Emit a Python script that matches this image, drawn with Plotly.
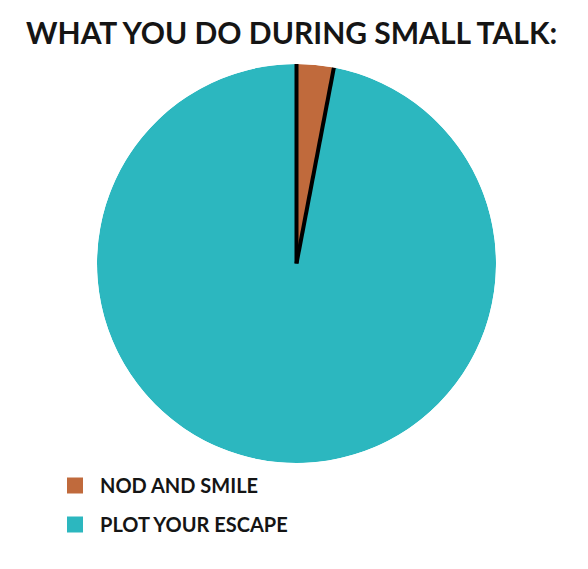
import plotly.graph_objects as go

title = "WHAT YOU DO DURING SMALL TALK:"
labels = ["NOD AND SMILE", "PLOT YOUR ESCAPE"]
values = [3, 97]
colors = ["#C06A3C", "#2CB7BF"]

total = sum(values)
widths = [v / total * 360 for v in values]
starts = [sum(widths[:i]) for i in range(len(widths))]
centers = [s + w / 2 for s, w in zip(starts, widths)]
# boundaries of the small slice (where black divider lines are drawn)
bounds = [starts[0], starts[0] + widths[0]]

fig = go.Figure()
fig.add_trace(go.Barpolar(
    r=[1] * len(values), theta=centers, width=widths,
    marker=dict(color=colors, line=dict(width=0)),
    text=labels, hoverinfo="text", showlegend=False,
))
line_r, line_t = [], []
for b in bounds:
    line_r += [0, 1, None]
    line_t += [b, b, None]
fig.add_trace(go.Scatterpolar(
    r=line_r, theta=line_t, mode="lines",
    line=dict(color="black", width=4), hoverinfo="skip", showlegend=False,
))
for lab, col in zip(labels, colors):
    fig.add_trace(go.Scatterpolar(
        r=[None], theta=[None], mode="markers", name=lab, legendgroup=lab,
        marker=dict(symbol="square", size=16, color=col),
    ))

fig.update_layout(
    width=588, height=569,
    margin=dict(l=0, r=0, t=0, b=0),
    paper_bgcolor="white",
    polar=dict(
        domain=dict(x=[97 / 588, 496 / 588], y=[1 - 465 / 569, 1 - 62 / 569]),
        bgcolor="rgba(0,0,0,0)",
        radialaxis=dict(range=[0, 1], visible=False, showgrid=False),
        angularaxis=dict(rotation=90, direction="clockwise", visible=False,
                         showgrid=False, showline=False),
        bargap=0,
    ),
    annotations=[dict(text=title, x=291.5 / 588, y=1 - 32 / 569, xref="paper", yref="paper",
                      xanchor="center", yanchor="middle", showarrow=False,
                      font=dict(family="Lato", size=30, color="#151515", weight="bold"))],
    legend=dict(x=50 / 588, y=1 - 466 / 569, xanchor="left", yanchor="top",
                font=dict(family="Lato", size=20, color="#151515", weight="bold"),
                tracegroupgap=10, itemwidth=40, bgcolor="rgba(0,0,0,0)"),
)
fig.write_html("out.html", config={"displayModeBar": False},
               post_script="document.body.style.margin='0';")
